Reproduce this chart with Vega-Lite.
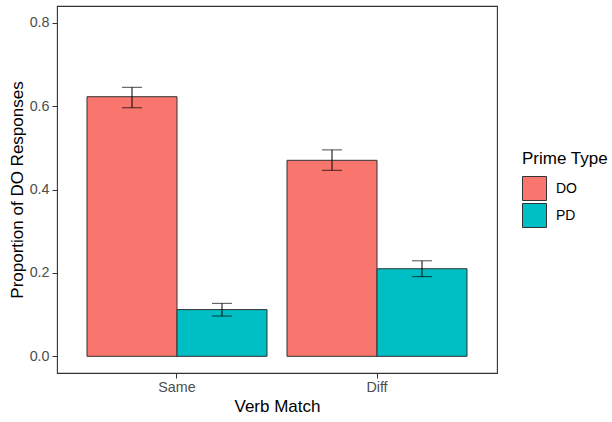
{
  "$schema": "https://vega.github.io/schema/vega-lite/v6.json",
  "width": 440,
  "height": 367,
  "autosize": {"type": "none"},
  "padding": {"left": 57, "top": 6, "right": 115, "bottom": 49},
  "background": "white",
  "config": {
    "font": "Liberation Sans",
    "view": {"stroke": "#333333", "strokeWidth": 1.1},
    "axis": {"grid": false, "domain": false, "tickColor": "#333333", "tickSize": 5, "labelColor": "#4D4D4D", "labelFontSize": 14.3, "titleFontSize": 17, "titleFontWeight": "normal", "titleColor": "#000000", "labelFont": "Liberation Sans", "titleFont": "Liberation Sans"}
  },
  "data": {
    "values": [
      {"verb": "Same", "prime": "DO", "prop": 0.6225, "lo": 0.596, "hi": 0.645},
      {"verb": "Same", "prime": "PD", "prop": 0.112, "lo": 0.0966, "hi": 0.127},
      {"verb": "Diff", "prime": "DO", "prop": 0.470, "lo": 0.446, "hi": 0.495},
      {"verb": "Diff", "prime": "PD", "prop": 0.210, "lo": 0.191, "hi": 0.229}
    ]
  },
  "encoding": {
    "x": {"field": "verb", "type": "nominal", "sort": ["Same", "Diff"],
      "scale": {"paddingInner": 0.1, "paddingOuter": 0.15},
      "axis": {"title": "Verb Match", "labelAngle": 0, "labelPadding": 2, "titlePadding": 4}},
    "xOffset": {"field": "prime", "type": "nominal", "sort": ["DO", "PD"], "scale": {"paddingInner": 0, "paddingOuter": 0}}
  },
  "layer": [
    {
      "mark": {"type": "bar", "stroke": "#333333", "strokeWidth": 1},
      "encoding": {
        "y": {"field": "prop", "type": "quantitative",
          "scale": {"domain": [-0.04, 0.84], "nice": false, "zero": false},
          "axis": {"title": "Proportion of DO Responses", "values": [0, 0.2, 0.4, 0.6, 0.8], "format": ".1f", "labelPadding": 3, "titlePadding": 3}},
        "fill": {"field": "prime", "type": "nominal",
          "scale": {"domain": ["DO", "PD"], "range": ["#F8766D", "#00BFC4"]},
          "legend": {"title": "Prime Type", "orient": "none", "legendX": 465, "legendY": 145,
            "titleFontSize": 17, "titleFontWeight": "normal", "titleColor": "#000000", "titlePadding": 8,
            "labelFontSize": 14, "labelColor": "#000000", "labelOffset": 9,
            "symbolType": "square", "symbolSize": 576, "symbolStrokeColor": "#333333", "symbolStrokeWidth": 1,
            "rowPadding": -2.5}}
      }
    },
    {
      "mark": {"type": "rule", "color": "#000000", "strokeWidth": 1},
      "encoding": {
        "y": {"field": "lo", "type": "quantitative"},
        "y2": {"field": "hi"}
      }
    },
    {
      "mark": {"type": "tick", "color": "#000000", "size": 20, "thickness": 1},
      "encoding": {
        "y": {"field": "lo", "type": "quantitative"}
      }
    },
    {
      "mark": {"type": "tick", "color": "#000000", "size": 20, "thickness": 1},
      "encoding": {
        "y": {"field": "hi", "type": "quantitative"}
      }
    }
  ]
}
